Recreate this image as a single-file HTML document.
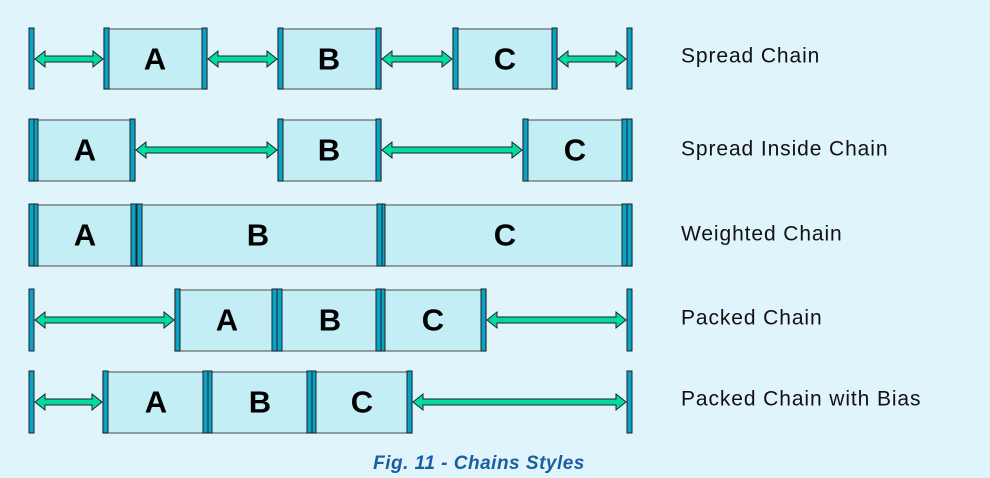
<!DOCTYPE html>
<html><head><meta charset="utf-8"><style>
html,body{margin:0;padding:0;background:#e0f4fc;width:990px;height:478px;overflow:hidden}
svg{display:block}
.bx{fill:#c4eef5;stroke:#666;stroke-width:1.2}
.br{fill:#0aa3c8;stroke:#222;stroke-width:1}
.ar{fill:#00dca0;stroke:#222;stroke-width:1}
.L{font-family:"Liberation Sans",Arial,sans-serif;font-weight:bold;font-size:31px;fill:#000;text-anchor:middle;dominant-baseline:central}
.T{font-family:"Liberation Sans",Arial,sans-serif;font-size:21px;letter-spacing:0.9px;fill:#111;dominant-baseline:central}
.C{font-family:"Liberation Sans",Arial,sans-serif;font-style:italic;font-weight:bold;font-size:19px;letter-spacing:0.5px;fill:#1b5fa0;text-anchor:middle}
</style></head><body>
<svg width="990" height="478" viewBox="0 0 990 478">
<g>
<rect class="bx" x="104" y="29" width="103" height="60"/>
<rect class="bx" x="278" y="29" width="103" height="60"/>
<rect class="bx" x="453" y="29" width="104" height="60"/>
<rect class="br" x="29" y="28" width="5" height="61"/>
<rect class="br" x="104" y="28" width="5" height="61"/><rect class="br" x="202" y="28" width="5" height="61"/>
<rect class="br" x="278" y="28" width="5" height="61"/><rect class="br" x="376" y="28" width="5" height="61"/>
<rect class="br" x="453" y="28" width="5" height="61"/><rect class="br" x="552" y="28" width="5" height="61"/>
<rect class="br" x="627" y="28" width="5" height="61"/>
<polygon class="ar" points="35,59 45,51 45,56 93,56 93,51 103,59 93,67 93,62 45,62 45,67"/>
<polygon class="ar" points="208,59 218,51 218,56 267,56 267,51 277,59 267,67 267,62 218,62 218,67"/>
<polygon class="ar" points="382,59 392,51 392,56 442,56 442,51 452,59 442,67 442,62 392,62 392,67"/>
<polygon class="ar" points="558,59 568,51 568,56 616,56 616,51 626,59 616,67 616,62 568,62 568,67"/>
<text class="L" x="155" y="59">A</text><text class="L" x="329" y="59">B</text><text class="L" x="505" y="59">C</text>
<text class="T" x="681" y="56">Spread Chain</text>
</g>
<g>
<rect class="bx" x="29" y="120" width="106" height="61"/>
<rect class="bx" x="278" y="120" width="103" height="61"/>
<rect class="bx" x="523" y="120" width="109" height="61"/>
<rect class="br" x="29" y="119" width="5" height="62"/><rect class="br" x="34" y="119" width="4" height="62"/><rect class="br" x="130" y="119" width="5" height="62"/>
<rect class="br" x="278" y="119" width="5" height="62"/><rect class="br" x="376" y="119" width="5" height="62"/>
<rect class="br" x="523" y="119" width="5" height="62"/><rect class="br" x="622" y="119" width="5" height="62"/><rect class="br" x="627" y="119" width="5" height="62"/>
<polygon class="ar" points="136,150 146,142 146,147 267,147 267,142 277,150 267,158 267,153 146,153 146,158"/>
<polygon class="ar" points="382,150 392,142 392,147 512,147 512,142 522,150 512,158 512,153 392,153 392,158"/>
<text class="L" x="85" y="150">A</text><text class="L" x="329" y="150">B</text><text class="L" x="575" y="150">C</text>
<text class="T" x="681" y="149">Spread Inside Chain</text>
</g>
<g>
<rect class="bx" x="29" y="205" width="107" height="61"/>
<rect class="bx" x="136" y="205" width="246" height="61"/>
<rect class="bx" x="382" y="205" width="250" height="61"/>
<rect class="br" x="29" y="204" width="5" height="62"/><rect class="br" x="34" y="204" width="4" height="62"/>
<rect class="br" x="131" y="204" width="5" height="62"/><rect class="br" x="137" y="204" width="5" height="62"/>
<rect class="br" x="377" y="204" width="5" height="62"/><rect class="br" x="382" y="204" width="3" height="62"/>
<rect class="br" x="622" y="204" width="5" height="62"/><rect class="br" x="627" y="204" width="5" height="62"/>
<text class="L" x="85" y="235">A</text><text class="L" x="258" y="235">B</text><text class="L" x="505" y="235">C</text>
<text class="T" x="681" y="234">Weighted Chain</text>
</g>
<g>
<rect class="bx" x="175" y="290" width="102" height="61"/>
<rect class="bx" x="277" y="290" width="104" height="61"/>
<rect class="bx" x="381" y="290" width="105" height="61"/>
<rect class="br" x="29" y="289" width="5" height="62"/>
<rect class="br" x="175" y="289" width="5" height="62"/><rect class="br" x="272" y="289" width="5" height="62"/>
<rect class="br" x="277" y="289" width="5" height="62"/><rect class="br" x="376" y="289" width="5" height="62"/>
<rect class="br" x="381" y="289" width="4" height="62"/><rect class="br" x="481" y="289" width="5" height="62"/>
<rect class="br" x="627" y="289" width="5" height="62"/>
<polygon class="ar" points="35,320 45,312 45,317 164,317 164,312 174,320 164,328 164,323 45,323 45,328"/>
<polygon class="ar" points="487,320 497,312 497,317 616,317 616,312 626,320 616,328 616,323 497,323 497,328"/>
<text class="L" x="227" y="320">A</text><text class="L" x="330" y="320">B</text><text class="L" x="433" y="320">C</text>
<text class="T" x="681" y="318">Packed Chain</text>
</g>
<g>
<rect class="bx" x="103" y="372" width="105" height="61"/>
<rect class="bx" x="208" y="372" width="104" height="61"/>
<rect class="bx" x="312" y="372" width="100" height="61"/>
<rect class="br" x="29" y="371" width="5" height="62"/>
<rect class="br" x="103" y="371" width="5" height="62"/><rect class="br" x="203" y="371" width="5" height="62"/>
<rect class="br" x="208" y="371" width="4" height="62"/><rect class="br" x="307" y="371" width="5" height="62"/>
<rect class="br" x="312" y="371" width="4" height="62"/><rect class="br" x="407" y="371" width="5" height="62"/>
<rect class="br" x="627" y="371" width="5" height="62"/>
<polygon class="ar" points="35,402 45,394 45,399 92,399 92,394 102,402 92,410 92,405 45,405 45,410"/>
<polygon class="ar" points="413,402 423,394 423,399 616,399 616,394 626,402 616,410 616,405 423,405 423,410"/>
<text class="L" x="156" y="402">A</text><text class="L" x="260" y="402">B</text><text class="L" x="362" y="402">C</text>
<text class="T" x="681" y="399">Packed Chain with Bias</text>
</g>
<text class="C" x="479" y="469">Fig. 11 - Chains Styles</text>
</svg>
</body></html>
